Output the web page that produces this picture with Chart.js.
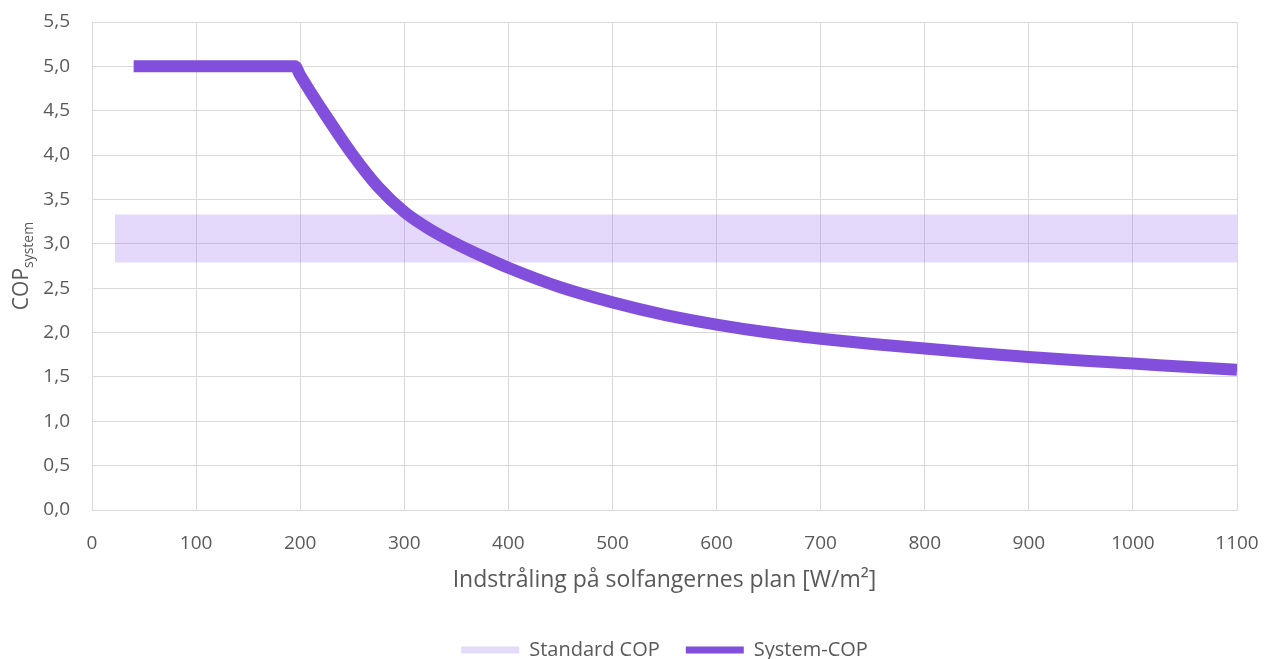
<!DOCTYPE html>
<html>
<head>
<meta charset="utf-8">
<script src="https://cdn.jsdelivr.net/npm/chart.js@4"></script>
<style>
  body { margin: 0; background: #fff; }
  #wrap { width: 1272px; height: 659px; }
</style>
</head>
<body>
<div id="wrap"><canvas id="copChart"></canvas></div>
<script>
// irradiance (W/m2) and system COP
const irradiance = [40, 195, 200, 210, 225, 250, 275, 300, 325, 350, 375, 400, 450, 500, 550, 600, 650, 700, 750, 800, 850, 900, 950, 1000, 1050, 1100];
const systemCop = [5.0, 5.0, 4.90, 4.71, 4.44, 4.01, 3.64, 3.36, 3.16, 3.0, 2.86, 2.73, 2.51, 2.34, 2.20, 2.09, 2.0, 1.93, 1.87, 1.82, 1.77, 1.725, 1.685, 1.65, 1.615, 1.58];

// standard COP band
const bandX = [22, 1100];
const bandLow = [2.79, 2.79];
const bandHigh = [3.33, 3.33];

const legendLabels = ['Standard COP', 'System-COP'];
const xTitle = 'Indstråling på solfangernes plan [W/m²]';

const lineColor = '#824fdc';
const bandColor = 'rgba(160,120,240,0.28)';
const bandLegend = '#e4dafa';
const textColor = '#595959';

function pts(xs, ys) {
    return xs.map(function (x, i) { return { x: x, y: ys[i] }; });
}

// y axis title with subscript
const yTitlePlugin = {
    id: 'yTitle',
    afterDraw(chart) {
        const ctx = chart.ctx;
        const cy = (chart.chartArea.top + chart.chartArea.bottom) / 2;
        ctx.save();
        ctx.translate(21, cy);
        ctx.rotate(-Math.PI / 2);
        ctx.fillStyle = textColor;
        ctx.textBaseline = 'alphabetic';
        ctx.font = '21px "Open Sans"';
        const w1 = ctx.measureText('COP').width;
        ctx.font = '14px "Open Sans"';
        const w2 = ctx.measureText('system').width;
        const start = -(w1 + w2) / 2;
        ctx.font = '21px "Open Sans"';
        ctx.fillText('COP', start, 7);
        ctx.font = '14px "Open Sans"';
        ctx.fillText('system', start + w1, 12);
        ctx.restore();
    }
};

const ctx = document.getElementById('copChart').getContext('2d');
new Chart(ctx, {
    type: 'line',
    data: {
        datasets: [
            {
                label: legendLabels[1],
                data: pts(irradiance, systemCop),
                borderColor: lineColor,
                borderWidth: 12,
                borderCapStyle: 'butt',
                borderJoinStyle: 'round',
                pointRadius: 0,
                cubicInterpolationMode: 'monotone',
                fill: false
            },
            {
                label: 'band low',
                data: pts(bandX, bandLow),
                borderColor: 'transparent',
                borderWidth: 1,
                pointRadius: 0,
                fill: false
            },
            {
                label: legendLabels[0],
                data: pts(bandX, bandHigh),
                borderColor: 'transparent',
                borderWidth: 1,
                pointRadius: 0,
                backgroundColor: bandColor,
                fill: '-1'
            }
        ]
    },
    options: {
        responsive: true,
        maintainAspectRatio: false,
        animation: false,
        layout: { padding: { top: 22, left: 0, right: 35, bottom: -11 } },
        scales: {
            x: {
                type: 'linear',
                min: 0,
                max: 1100,
                ticks: {
                    stepSize: 100,
                    padding: 22,
                    color: textColor,
                    font: { family: 'Open Sans', size: 19 },
                    maxRotation: 0,
                    callback: function (v) { return String(v); }
                },
                grid: { color: '#d9d9d9', drawTicks: false },
                border: { color: '#d9d9d9' },
                title: {
                    display: true,
                    text: xTitle,
                    color: textColor,
                    font: { family: 'Open Sans', size: 23 },
                    padding: { top: 0, bottom: 20 }
                },
                afterFit: function (s) {
                    s.height = 104;
                    s.paddingLeft = 0;
                    s.paddingRight = 0;
                }
            },
            y: {
                min: 0,
                max: 5.5,
                ticks: {
                    stepSize: 0.5,
                    padding: 22,
                    color: textColor,
                    font: { family: 'Open Sans', size: 19 },
                    callback: function (v) { return v.toFixed(1).replace('.', ','); }
                },
                grid: { color: '#d9d9d9', drawTicks: false },
                border: { color: '#d9d9d9' },
                afterFit: function (s) {
                    s.width = 92;
                    s.paddingTop = 0;
                    s.paddingBottom = 0;
                }
            }
        },
        plugins: {
            tooltip: { enabled: false },
            legend: {
                position: 'bottom',
                fullSize: false,
                labels: {
                    color: textColor,
                    font: { family: 'Open Sans', size: 20 },
                    boxWidth: 58,
                    boxHeight: 7,
                    padding: 26,
                    generateLabels: function () {
                        return [
                            { text: legendLabels[0], fillStyle: bandLegend, strokeStyle: bandLegend, lineWidth: 0, fontColor: textColor, datasetIndex: 2 },
                            { text: legendLabels[1], fillStyle: lineColor, strokeStyle: lineColor, lineWidth: 0, fontColor: textColor, datasetIndex: 0 }
                        ];
                    }
                }
            }
        }
    },
    plugins: [yTitlePlugin]
});
</script>
</body>
</html>
